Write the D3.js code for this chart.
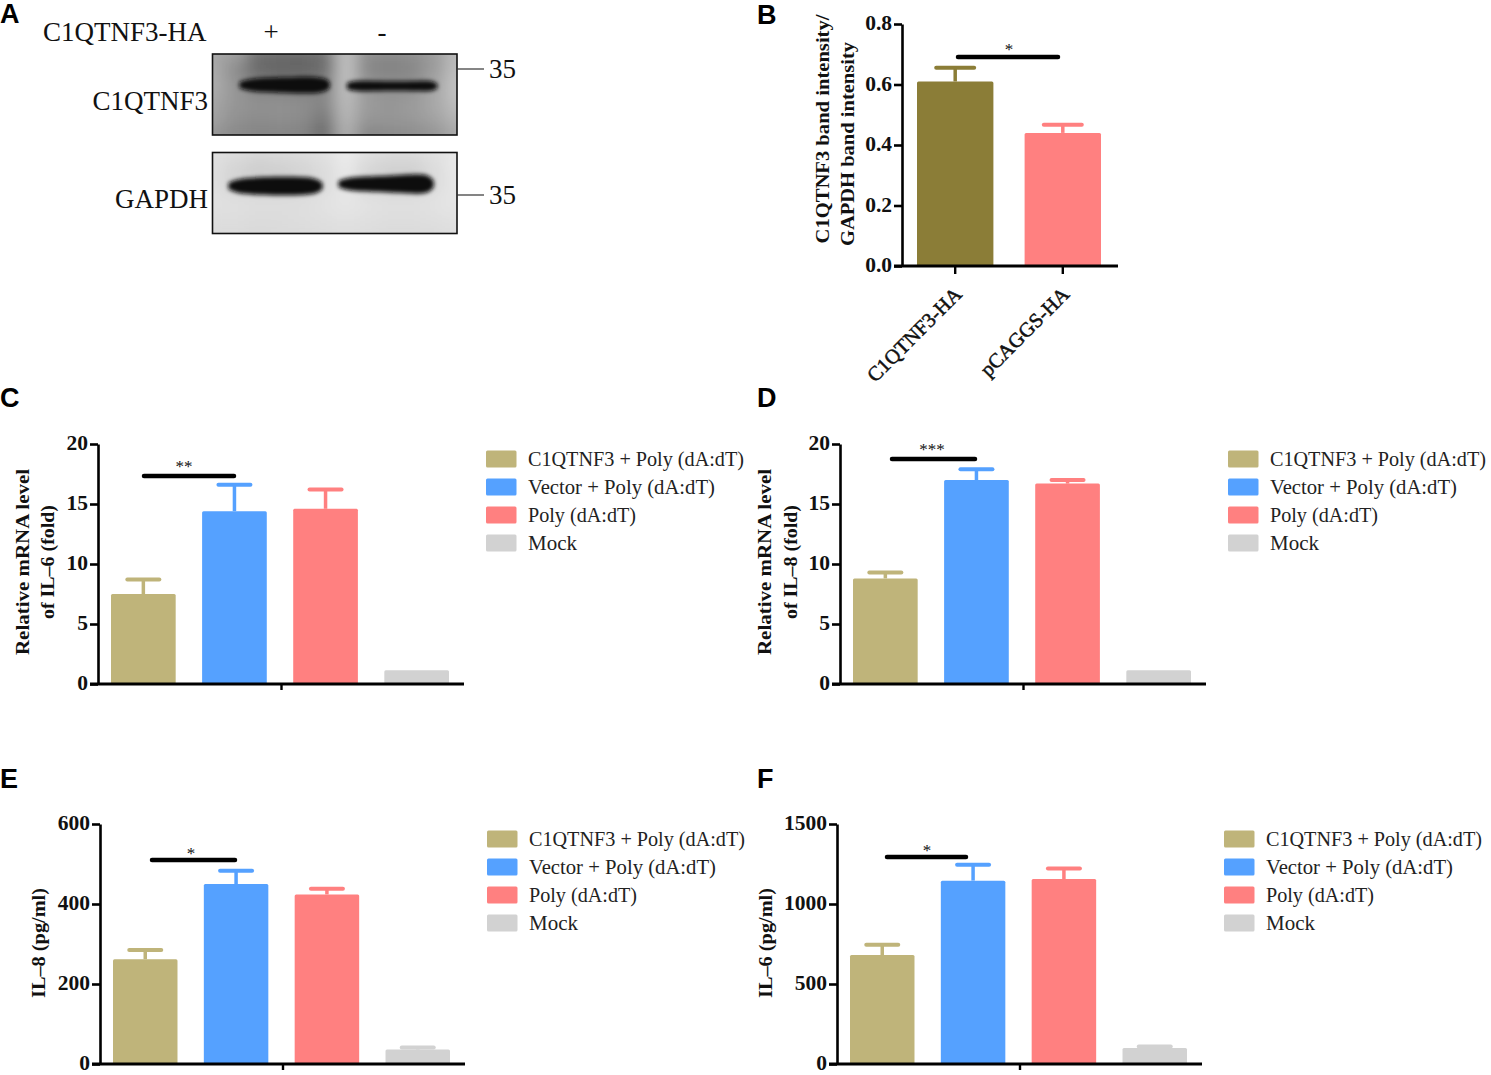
<!DOCTYPE html>
<html>
<head>
<meta charset="utf-8">
<script src="https://cdnjs.cloudflare.com/ajax/libs/d3/7.8.5/d3.min.js"></script>
<style>
  html, body { margin: 0; padding: 0; background: #fff; }
  svg { display: block; }
  text { font-family: "Liberation Serif", serif; fill: #111; }
  .tick text { font-weight: bold; font-size: 21.5px; }
  .panel-letter { font-family: "Liberation Sans", sans-serif; font-weight: bold; font-size: 27px; fill: #000; }
  .axis-label { font-weight: bold; font-size: 18px; text-anchor: middle; }
  .legend-label { font-size: 20.2px; fill: #222; }
  .blot-label { font-size: 27px; }
</style>
</head>
<body>
<svg id="fig" width="1491" height="1075"></svg>
<script>
// data
const groups = ["C1QTNF3 + Poly (dA:dT)", "Vector + Poly (dA:dT)", "Poly (dA:dT)", "Mock"];
const groupColors = ["#bfb47a", "#55a1ff", "#ff8080", "#d2d2d2"];

const bandGroups = ["C1QTNF3-HA", "pCAGGS-HA"];
const bandColors = ["#8b7d37", "#ff8080"];
const bandMean = [0.61, 0.44];
const bandErr = [0.655, 0.467];
const bandTicks = [0, 0.2, 0.4, 0.6, 0.8];

const il6MrnaMean = [7.5, 14.4, 14.6, 1.15];
const il6MrnaErr = [8.7, 16.6, 16.2, 1.15];
const il8MrnaMean = [8.8, 17.0, 16.7, 1.15];
const il8MrnaErr = [9.3, 17.9, 17.0, 1.15];
const mrnaTicks = [0, 5, 10, 15, 20];

const il8Mean = [262, 450, 424, 36];
const il8Err = [285, 483, 438, 41];
const il8Ticks = [0, 200, 400, 600];

const il6Mean = [681, 1146, 1156, 100];
const il6Err = [745, 1245, 1222, 110];
const il6Ticks = [0, 500, 1000, 1500];

const legendTextWidths = [216, 187, 108, 49];

// blot background, grey level per cell (rows top to bottom)
const blotTopGrey = [
  [165, 160, 112, 108, 106, 112, 190, 142, 138, 142, 155, 185],
  [170, 140, 105, 100, 100, 108, 192, 135, 130, 135, 155, 190],
  [172, 150, 130, 128, 126, 130, 190, 150, 145, 145, 165, 195],
  [165, 150, 145, 145, 142, 135, 185, 155, 150, 155, 168, 190],
  [160, 145, 140, 143, 140, 120, 180, 150, 150, 153, 162, 180],
  [145, 135, 130, 130, 128, 105, 170, 130, 135, 138, 145, 165]
];
const blotBottomGrey = [
  [225, 222, 218, 220, 222, 226, 236, 226, 222, 222, 226, 232],
  [222, 212, 205, 208, 212, 220, 232, 215, 208, 208, 220, 232],
  [222, 212, 208, 208, 212, 220, 230, 215, 210, 210, 220, 230],
  [225, 224, 222, 222, 222, 226, 230, 226, 224, 224, 226, 230],
  [222, 222, 220, 220, 222, 224, 226, 224, 222, 222, 224, 226],
  [218, 218, 216, 218, 218, 220, 222, 220, 218, 218, 218, 222]
];
// band outlines: [lane position, half thickness], lane position 0..1 over blot width
const topBand1 = [[0.11, 3], [0.16, 7], [0.3, 7.5], [0.4, 9], [0.47, 6.5], [0.48, 2]];
const topBand2 = [[0.55, 3], [0.59, 6], [0.7, 4.5], [0.85, 5], [0.9, 5.5], [0.92, 2]];
const bottomBand1 = [[0.065, 3], [0.11, 8.5], [0.3, 9.5], [0.42, 9], [0.45, 3]];
const bottomBand2 = [[0.515, 3], [0.56, 7.5], [0.72, 8], [0.85, 10.5], [0.89, 8], [0.905, 3]];

const svg = d3.select("#fig");
const defs = svg.append("defs");
defs.append("filter").attr("id", "soft").attr("x", "-5%").attr("y", "-5%").attr("width", "110%").attr("height", "110%")
  .append("feGaussianBlur").attr("stdDeviation", 8);
defs.append("filter").attr("id", "bandblur").attr("x", "-10%").attr("y", "-50%").attr("width", "120%").attr("height", "200%")
  .append("feGaussianBlur").attr("stdDeviation", 2.2);

// ---- panel letters
const letters = [["A", 0, 23], ["B", 757, 24], ["C", 0, 407], ["D", 757, 407], ["E", 0, 788], ["F", 757, 788]];
svg.selectAll(".panel-letter").data(letters).enter().append("text")
  .attr("class", "panel-letter")
  .attr("x", d => d[1]).attr("y", d => d[2])
  .text(d => d[0]);

// ---- western blot
function drawBlot(cfg) {
  const clipId = "clip" + cfg.id;
  defs.append("clipPath").attr("id", clipId).append("rect")
    .attr("x", cfg.x).attr("y", cfg.y).attr("width", cfg.w).attr("height", cfg.h);
  const g = svg.append("g").attr("clip-path", "url(#" + clipId + ")");
  const cx = d3.scaleBand().domain(d3.range(cfg.grey[0].length)).range([cfg.x - 10, cfg.x + cfg.w + 10]);
  const cy = d3.scaleBand().domain(d3.range(cfg.grey.length)).range([cfg.y - 10, cfg.y + cfg.h + 10]);
  g.append("rect").attr("x", cfg.x).attr("y", cfg.y).attr("width", cfg.w).attr("height", cfg.h)
    .attr("fill", d3.rgb(cfg.grey[2][6], cfg.grey[2][6], cfg.grey[2][6]));
  const cells = g.append("g").attr("filter", "url(#soft)");
  cfg.grey.forEach((row, r) => {
    cells.selectAll(".c" + r).data(row).enter().append("rect")
      .attr("x", (d, i) => cx(i)).attr("y", cy(r))
      .attr("width", cx.bandwidth() + 1).attr("height", cy.bandwidth() + 1)
      .attr("fill", d => d3.rgb(d, d, d));
  });
  const lane = d3.scaleLinear().domain([0, 1]).range([cfg.x, cfg.x + cfg.w]);
  cfg.bands.forEach(b => {
    const area = d3.area().curve(d3.curveBasis)
      .x(d => lane(d[0]))
      .y0(d => b.y - d[1])
      .y1(d => b.y + d[1]);
    g.append("path").attr("d", area(b.shape)).attr("fill", "#0c0c0c").attr("filter", "url(#bandblur)");
  });
  svg.append("rect").attr("x", cfg.x).attr("y", cfg.y).attr("width", cfg.w).attr("height", cfg.h)
    .attr("fill", "none").attr("stroke", "#111").attr("stroke-width", 1.6);
  // marker
  svg.append("line").attr("x1", cfg.x + cfg.w).attr("x2", cfg.x + cfg.w + 27)
    .attr("y1", cfg.markerY).attr("y2", cfg.markerY).attr("stroke", "#333").attr("stroke-width", 1.2);
  svg.append("text").attr("class", "blot-label").attr("x", cfg.x + cfg.w + 32).attr("y", cfg.markerY + 9).text("35");
  svg.append("text").attr("class", "blot-label").attr("x", 208).attr("y", cfg.labelY)
    .attr("text-anchor", "end").text(cfg.label);
}

svg.append("text").attr("class", "blot-label").attr("x", 43).attr("y", 41).text("C1QTNF3-HA");
svg.append("text").attr("class", "blot-label").attr("x", 271).attr("y", 41).attr("text-anchor", "middle").text("+");
svg.append("text").attr("class", "blot-label").attr("x", 382).attr("y", 41).attr("text-anchor", "middle").text("-");

drawBlot({ id: "top", x: 212.5, y: 54, w: 244.5, h: 81, grey: blotTopGrey, markerY: 69, labelY: 110, label: "C1QTNF3",
  bands: [{ y: 85, shape: topBand1 }, { y: 86, shape: topBand2 }] });
drawBlot({ id: "bottom", x: 212.5, y: 152.5, w: 244.5, h: 81, grey: blotBottomGrey, markerY: 195, labelY: 208, label: "GAPDH",
  bands: [{ y: 186, shape: bottomBand1 }, { y: 184, shape: bottomBand2 }] });

// ---- bar panels
function drawBars(cfg) {
  const g = svg.append("g");
  const y = d3.scaleLinear().domain(cfg.domain).range([cfg.yBottom, cfg.yTop]);
  const x = d3.scaleBand().domain(cfg.names).range([cfg.barStart, cfg.barEnd]).paddingInner(0.29).paddingOuter(0);

  // error bars behind the bar, mock in the mRNA panels has none
  const err = g.selectAll(".err").data(cfg.names).enter().append("g")
    .attr("stroke", (d, i) => cfg.colors[i])
    .attr("display", (d, i) => cfg.err[i] > cfg.mean[i] ? null : "none");
  err.append("line")
    .attr("x1", d => x(d) + x.bandwidth() / 2).attr("x2", d => x(d) + x.bandwidth() / 2)
    .attr("y1", (d, i) => y(cfg.mean[i])).attr("y2", (d, i) => y(cfg.err[i]))
    .attr("stroke-width", 3.5);
  err.append("line")
    .attr("x1", d => x(d) + x.bandwidth() / 2 - cfg.capHalf).attr("x2", d => x(d) + x.bandwidth() / 2 + cfg.capHalf)
    .attr("y1", (d, i) => y(cfg.err[i])).attr("y2", (d, i) => y(cfg.err[i]))
    .attr("stroke-width", 4).attr("stroke-linecap", "round");

  g.selectAll(".bar").data(cfg.names).enter().append("rect")
    .attr("x", d => x(d)).attr("width", x.bandwidth())
    .attr("y", (d, i) => y(cfg.mean[i]))
    .attr("height", (d, i) => y(0) - y(cfg.mean[i]))
    .attr("rx", 1.5)
    .attr("fill", (d, i) => cfg.colors[i]);

  // axes
  const yAxis = d3.axisLeft(y).tickValues(cfg.ticks).tickFormat(cfg.format || d3.format("d")).tickSize(8).tickSizeOuter(0).tickPadding(2);
  const ya = g.append("g").attr("transform", "translate(" + cfg.axisX + ",0)").call(yAxis);
  ya.selectAll("line, path").attr("stroke", "#000").attr("stroke-width", 2.6);
  ya.selectAll("text").attr("fill", "#111").attr("y", -1);

  const xAxisG = g.append("g").attr("transform", "translate(0," + cfg.yBottom + ")");
  if (cfg.tickLabels) {
    xAxisG.call(d3.axisBottom(x.copy()).tickSize(8).tickSizeOuter(0));
    xAxisG.selectAll("text")
      .attr("transform", "rotate(-45)")
      .attr("text-anchor", "end").attr("dx", "-0.75em").attr("dy", "0.75em")
      .style("font-size", "20.5px").style("font-weight", "normal").attr("stroke", "#111").attr("stroke-width", 0.5);
  } else {
    const mid = (cfg.barStart + cfg.barEnd) / 2 + 1;
    xAxisG.call(d3.axisBottom(d3.scaleLinear().domain([cfg.barStart, cfg.barEnd]).range([cfg.barStart, cfg.barEnd]))
      .tickValues([mid]).tickFormat("").tickSize(6).tickSizeOuter(0));
  }
  xAxisG.select(".domain").remove();
  xAxisG.selectAll("line").attr("stroke", "#000").attr("stroke-width", 2.4);
  xAxisG.append("line").attr("x1", cfg.axisX - 8).attr("x2", cfg.axisEnd)
    .attr("stroke", "#000").attr("stroke-width", 2.8);

  // significance bar
  g.append("line").attr("x1", cfg.sig.x1).attr("x2", cfg.sig.x2).attr("y1", cfg.sig.y).attr("y2", cfg.sig.y)
    .attr("stroke", "#000").attr("stroke-width", 4.5).attr("stroke-linecap", "round");
  g.append("text").attr("x", cfg.sig.starX).attr("y", cfg.sig.y - cfg.sig.lift).attr("text-anchor", "middle")
    .style("font-size", "17px").attr("fill", "#555").text(cfg.sig.stars);

  // y title
  cfg.title.forEach(t => {
    g.append("text").attr("class", "axis-label")
      .attr("transform", "translate(" + t.x + "," + t.y + ") rotate(-90)")
      .attr("textLength", t.len).attr("lengthAdjust", "spacingAndGlyphs")
      .text(t.text);
  });

  // legend
  if (cfg.legend) {
    const rowY = d3.scalePoint().domain(cfg.names).range([cfg.legend.y, cfg.legend.y + 84]);
    const rows = g.selectAll(".leg").data(cfg.names).enter().append("g")
      .attr("transform", d => "translate(" + cfg.legend.x + "," + rowY(d) + ")");
    rows.append("rect").attr("x", 0).attr("y", -8.5).attr("width", 30.5).attr("height", 17).attr("rx", 1.5)
      .attr("fill", (d, i) => cfg.colors[i]);
    rows.append("text").attr("class", "legend-label").attr("x", 42).attr("y", 7)
      .attr("textLength", (d, i) => legendTextWidths[i]).attr("lengthAdjust", "spacingAndGlyphs")
      .text(d => d);
  }
}

drawBars({
  names: bandGroups, colors: bandColors, mean: bandMean, err: bandErr, ticks: bandTicks, domain: [0, 0.8],
  format: d3.format(".1f"), tickLabels: true, capHalf: 19,
  yTop: 24, yBottom: 266, axisX: 902, axisEnd: 1118, barStart: 917, barEnd: 1101,
  sig: { x1: 958, x2: 1058, y: 57, lift: 2, starX: 1009, stars: "*" },
  title: [{ x: 829, y: 129, text: "C1QTNF3  band intensity/", len: 229 }, { x: 854, y: 144, text: "GAPDH band intensity", len: 204 }]
});
drawBars({
  names: groups, colors: groupColors, mean: il6MrnaMean, err: il6MrnaErr, ticks: mrnaTicks, domain: [0, 20], capHalf: 16,
  yTop: 444, yBottom: 684, axisX: 98, axisEnd: 464, barStart: 111, barEnd: 449,
  sig: { x1: 144, x2: 234, y: 476, lift: 4, starX: 184, stars: "**" },
  title: [{ x: 29, y: 562, text: "Relative mRNA level", len: 186 }, { x: 54, y: 562, text: "of IL–6 (fold)", len: 114 }],
  legend: { x: 486, y: 459 }
});
drawBars({
  names: groups, colors: groupColors, mean: il8MrnaMean, err: il8MrnaErr, ticks: mrnaTicks, domain: [0, 20], capHalf: 16,
  yTop: 444, yBottom: 684, axisX: 840, axisEnd: 1206, barStart: 853, barEnd: 1191,
  sig: { x1: 892, x2: 975, y: 459, lift: 4, starX: 932, stars: "***" },
  title: [{ x: 771, y: 562, text: "Relative mRNA level", len: 186 }, { x: 797, y: 562, text: "of IL–8 (fold)", len: 114 }],
  legend: { x: 1228, y: 459 }
});
drawBars({
  names: groups, colors: groupColors, mean: il8Mean, err: il8Err, ticks: il8Ticks, domain: [0, 600], capHalf: 16,
  yTop: 824, yBottom: 1064, axisX: 100, axisEnd: 465, barStart: 113, barEnd: 450,
  sig: { x1: 152, x2: 235, y: 860, lift: 1, starX: 191, stars: "*" },
  title: [{ x: 45, y: 943, text: "IL–8 (pg/ml)", len: 110 }],
  legend: { x: 487, y: 839 }
});
drawBars({
  names: groups, colors: groupColors, mean: il6Mean, err: il6Err, ticks: il6Ticks, domain: [0, 1500], capHalf: 16,
  yTop: 824, yBottom: 1064, axisX: 837, axisEnd: 1202, barStart: 850, barEnd: 1187,
  sig: { x1: 887, x2: 966, y: 857, lift: 1, starX: 927, stars: "*" },
  title: [{ x: 772, y: 943, text: "IL–6 (pg/ml)", len: 110 }],
  legend: { x: 1224, y: 839 }
});
</script>
</body>
</html>
